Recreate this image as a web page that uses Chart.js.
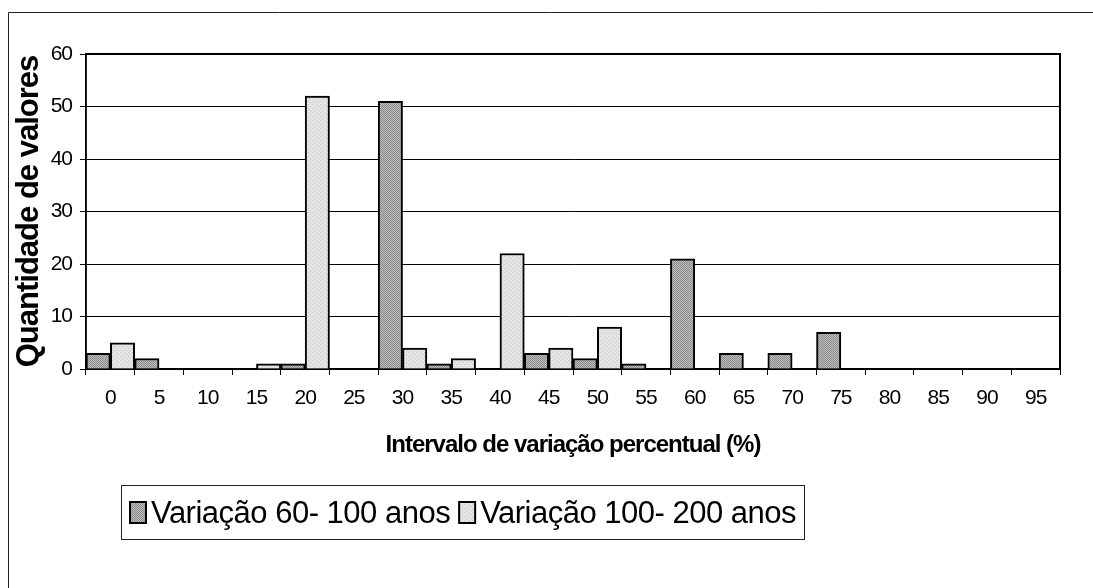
<!DOCTYPE html>
<html>
<head>
<meta charset="utf-8">
<script src="https://cdn.jsdelivr.net/npm/chart.js@4/dist/chart.umd.min.js"></script>
<style>
  html, body { margin: 0; padding: 0; background: #fff; }
  #wrap { width: 1093px; height: 588px; position: relative; }
</style>
</head>
<body>
<div id="wrap"><canvas id="c" width="1093" height="588"></canvas></div>
<script>
// ---- data ----
const categories = ['0','5','10','15','20','25','30','35','40','45','50','55','60','65','70','75','80','85','90','95'];
const variacao60a100 = [3,2,0,0,1,0,51,1,0,3,2,1,21,3,3,7,0,0,0,0];
const variacao100a200 = [5,0,0,1,52,0,4,2,22,4,8,0,0,0,0,0,0,0,0,0];
const seriesLabels = ['Variação 60- 100 anos', 'Variação 100- 200 anos'];
const yMin = 0, yMax = 60, yStep = 10;
const xTitle = 'Intervalo de variação percentual (%)';
const yTitle = 'Quantidade de valores';

const FONT = "'Liberation Sans', Arial, sans-serif";

function makePattern(bg, fg, kind) {
  const c = document.createElement('canvas');
  c.width = 4; c.height = 4;
  const x = c.getContext('2d');
  x.fillStyle = bg; x.fillRect(0, 0, 4, 4);
  x.fillStyle = fg;
  if (kind === 'hatch') {
    for (let i = 0; i < 4; i++) { x.fillRect(i, i, 1, 1); x.fillRect((i + 2) % 4, i, 1, 1); }
  } else {
    x.fillRect(0, 0, 1, 1); x.fillRect(2, 2, 1, 1);
  }
  return document.getElementById('c').getContext('2d').createPattern(c, 'repeat');
}
const darkFill = makePattern('#bcbcbc', '#8c8c8c', 'hatch');
const lightFill = makePattern('#e4e4e4', '#c4c4c4', 'dots');

const framePlugin = {
  id: 'frame',
  beforeDraw(chart) {
    const ctx = chart.ctx;
    ctx.save();
    ctx.fillStyle = '#fff';
    ctx.fillRect(0, 0, chart.width, chart.height);
    ctx.strokeStyle = '#222';
    ctx.lineWidth = 1;
    ctx.beginPath();
    ctx.moveTo(8.5, chart.height);
    ctx.lineTo(8.5, 12.5);
    ctx.lineTo(chart.width, 12.5);
    ctx.stroke();
    ctx.restore();
    // condensed text look for axis labels and titles
    ctx.letterSpacing = '-1px';
  },
  afterDatasetsDraw(chart) {
    const a = chart.chartArea, ctx = chart.ctx;
    ctx.save();
    ctx.strokeStyle = '#000';
    ctx.lineWidth = 2;
    ctx.beginPath();
    ctx.moveTo(a.left, a.top);
    ctx.lineTo(a.right, a.top);
    ctx.lineTo(a.right, a.bottom);
    ctx.stroke();
    ctx.lineWidth = 1.5;
    ctx.beginPath();
    ctx.moveTo(a.left, a.top);
    ctx.lineTo(a.left, a.bottom);
    ctx.stroke();
    ctx.restore();
  },
  afterDraw(chart) {
    // legend (drawn from the datasets)
    const ctx = chart.ctx;
    ctx.save();
    ctx.letterSpacing = '-0.5px';
    const box = { l: 121, t: 485, r: 804, b: 539 };
    ctx.strokeStyle = '#222';
    ctx.lineWidth = 1;
    ctx.strokeRect(box.l + 0.5, box.t + 0.5, box.r - box.l, box.b - box.t);
    ctx.font = "31px " + FONT;
    ctx.textBaseline = 'alphabetic';
    ctx.fillStyle = '#000';
    let x = 129;
    chart.data.datasets.forEach((ds, i) => {
      ctx.fillStyle = ds.backgroundColor;
      ctx.fillRect(x, 501, 18, 23);
      ctx.strokeStyle = '#000';
      ctx.lineWidth = 2;
      ctx.strokeRect(x + 1, 502, 16, 21);
      x += 22;
      ctx.fillStyle = '#000';
      ctx.fillText(ds.label, x, 523);
      x += ctx.measureText(ds.label).width + 8;
    });
    ctx.restore();
    ctx.letterSpacing = '0px';
  }
};

new Chart(document.getElementById('c'), {
  type: 'bar',
  data: {
    labels: categories,
    datasets: [
      { label: seriesLabels[0], data: variacao60a100, backgroundColor: darkFill,
        borderColor: '#000', borderWidth: 2, barPercentage: 1, categoryPercentage: 1 },
      { label: seriesLabels[1], data: variacao100a200, backgroundColor: lightFill,
        borderColor: '#000', borderWidth: 2, barPercentage: 1, categoryPercentage: 1 }
    ]
  },
  options: {
    responsive: false,
    animation: false,
    events: [],
    layout: { padding: { left: 0, right: 33, top: 54, bottom: 123 } },
    plugins: { legend: { display: false }, tooltip: { enabled: false } },
    scales: {
      x: {
        grid: { display: true, drawOnChartArea: false, drawTicks: true, tickLength: 6, color: '#000', offset: true },
        border: { display: true, color: '#000', width: 2 },
        ticks: { color: '#000', font: { family: FONT, size: 21 }, padding: 11, maxRotation: 0, autoSkip: false },
        title: { display: true, text: xTitle, color: '#000', font: { family: FONT, size: 24, weight: 'bold' }, padding: { top: 4, bottom: 5 } },
        afterFit(s) { s.height = 96; }
      },
      y: {
        min: yMin, max: yMax,
        ticks: { stepSize: yStep, color: '#000', font: { family: FONT, size: 21 }, padding: 8 },
        grid: { color: '#000', lineWidth: 1, tickLength: 6, drawTicks: true },
        border: { display: true, color: '#000', width: 1.5 },
        title: { display: true, text: yTitle, color: '#000', font: { family: FONT, size: 31, weight: 'bold' }, padding: { top: 11, bottom: 4 } },
        afterFit(s) { s.width = 86; }
      }
    }
  },
  plugins: [framePlugin]
});
</script>
</body>
</html>
